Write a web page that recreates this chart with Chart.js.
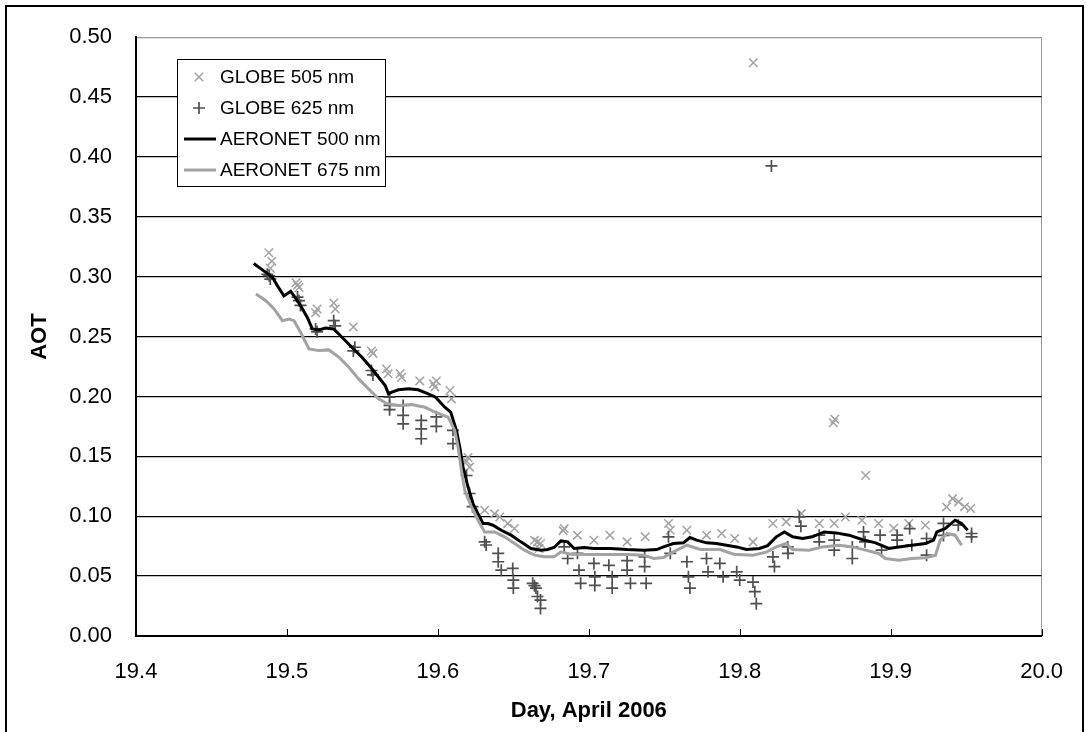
<!DOCTYPE html>
<html>
<head>
<meta charset="utf-8">
<script src="https://cdn.jsdelivr.net/npm/chart.js@4.4.1/dist/chart.umd.min.js"></script>
<style>
  html, body { margin: 0; padding: 0; background: #fff; }
  #wrap { position: relative; width: 1086px; height: 732px; overflow: hidden; }
  #frame { position: absolute; left: 5px; top: 5px; width: 1079px; height: 740px; border: 2px solid #000; box-sizing: border-box; pointer-events: none; }
  canvas { position: absolute; left: 0; top: 0; }
</style>
</head>
<body>
<div id="wrap">
  <canvas id="c" width="1086" height="732"></canvas>
  <div id="frame"></div>
</div>
<script>
// ---- data ----
const xTicks = [19.4, 19.5, 19.6, 19.7, 19.8, 19.9, 20.0];
const yTicks = [0.00, 0.05, 0.10, 0.15, 0.20, 0.25, 0.30, 0.35, 0.40, 0.45, 0.50];
const seriesNames = ["GLOBE 505 nm", "GLOBE 625 nm", "AERONET 500 nm", "AERONET 675 nm"];

const aeronet500X = [19.478,19.486,19.4905,19.4937,19.498,19.5025,19.5047,19.509,19.5135,19.5168,19.5212,19.5256,19.531,19.5365,19.543,19.5497,19.5563,19.5607,19.5651,19.5673,19.5695,19.5739,19.5805,19.587,19.5936,19.5985,19.6046,19.6085,19.6123,19.6145,19.6167,19.620,19.6233,19.6266,19.6299,19.6332,19.6365,19.642,19.6485,19.655,19.6617,19.6683,19.6727,19.677,19.6815,19.686,19.6903,19.697,19.7034,19.7144,19.7254,19.7364,19.745,19.7495,19.756,19.7627,19.767,19.7715,19.778,19.7846,19.7912,19.798,19.8044,19.813,19.8185,19.8242,19.8296,19.835,19.8417,19.848,19.856,19.8637,19.8724,19.881,19.89,19.8988,19.9054,19.914,19.923,19.9284,19.9306,19.936,19.9427,19.947,19.951];
const aeronet500Y = [0.311,0.3036,0.2994,0.2925,0.284,0.2878,0.284,0.276,0.266,0.2564,0.2556,0.2572,0.2564,0.2494,0.2411,0.2328,0.2231,0.2161,0.2092,0.2022,0.2036,0.2056,0.2064,0.2056,0.2022,0.1994,0.191,0.187,0.1717,0.1578,0.1411,0.1244,0.1106,0.1022,0.0939,0.0939,0.0925,0.0883,0.0842,0.0786,0.0731,0.0717,0.0722,0.0739,0.0794,0.0786,0.0731,0.0739,0.0731,0.0731,0.0722,0.0717,0.0722,0.0744,0.0772,0.0778,0.0822,0.080,0.0778,0.0772,0.0758,0.0744,0.0722,0.0731,0.0755,0.0828,0.0869,0.0828,0.0814,0.0828,0.0869,0.0861,0.0842,0.0806,0.0778,0.0731,0.0744,0.0758,0.0772,0.080,0.0869,0.0897,0.0967,0.0939,0.0883];

const aeronet675X = [19.4795,19.486,19.4915,19.497,19.5014,19.5047,19.509,19.5146,19.5212,19.5278,19.5344,19.541,19.5475,19.5541,19.5607,19.5662,19.5739,19.5826,19.5914,19.598,19.6068,19.6112,19.6134,19.6156,19.6178,19.6222,19.6266,19.631,19.6376,19.6442,19.6508,19.6573,19.664,19.6705,19.677,19.6815,19.688,19.7034,19.7254,19.7364,19.743,19.7495,19.756,19.765,19.774,19.787,19.796,19.8088,19.8176,19.8242,19.8308,19.835,19.846,19.8549,19.8659,19.8746,19.8834,19.892,19.8966,19.9054,19.914,19.923,19.9297,19.9328,19.9372,19.9427,19.947];
const aeronet675Y = [0.2856,0.280,0.2731,0.2633,0.2647,0.2633,0.2536,0.2397,0.2383,0.2389,0.2328,0.2244,0.2147,0.2064,0.1981,0.194,0.1925,0.1933,0.191,0.187,0.1828,0.1717,0.1578,0.1383,0.1217,0.1078,0.0967,0.0869,0.0869,0.0828,0.0772,0.0717,0.0675,0.0661,0.0661,0.0703,0.0683,0.068,0.068,0.0675,0.0647,0.0656,0.0703,0.0758,0.0722,0.0722,0.0683,0.0675,0.070,0.0744,0.0772,0.0722,0.0717,0.0744,0.0758,0.0744,0.0717,0.0689,0.0647,0.0633,0.0647,0.0653,0.0675,0.080,0.0856,0.0842,0.0758];

const globe505X = [19.488,19.490,19.489,19.506,19.508,19.507,19.519,19.520,19.531,19.532,19.544,19.556,19.557,19.566,19.567,19.576,19.575,19.588,19.597,19.599,19.598,19.608,19.609,19.620,19.621,19.619,19.631,19.6375,19.641,19.6463,19.6507,19.664,19.666,19.668,19.667,19.6837,19.683,19.6925,19.7034,19.714,19.7254,19.7374,19.7528,19.754,19.765,19.778,19.788,19.7967,19.8088,19.809,19.822,19.8308,19.8408,19.8527,19.8626,19.862,19.863,19.870,19.881,19.8834,19.892,19.902,19.912,19.923,19.937,19.945,19.949,19.941,19.953];
const globe505Y = [0.320,0.313,0.307,0.295,0.291,0.293,0.270,0.273,0.278,0.273,0.258,0.238,0.236,0.223,0.219,0.216,0.219,0.213,0.2106,0.213,0.208,0.205,0.198,0.149,0.141,0.146,0.105,0.102,0.0994,0.094,0.0897,0.080,0.0786,0.0772,0.073,0.0897,0.088,0.0842,0.080,0.0842,0.0786,0.0828,0.094,0.0883,0.0883,0.0842,0.0856,0.0814,0.0786,0.4786,0.094,0.0953,0.1022,0.094,0.094,0.178,0.181,0.0994,0.0967,0.134,0.094,0.090,0.094,0.0925,0.1078,0.112,0.108,0.1147,0.1064];

const globe625X = [19.4883,19.489,19.487,19.508,19.509,19.507,19.519,19.520,19.531,19.532,19.545,19.544,19.556,19.557,19.568,19.568,19.568,19.577,19.577,19.577,19.589,19.589,19.589,19.599,19.599,19.610,19.610,19.619,19.621,19.623,19.631,19.632,19.640,19.640,19.642,19.6496,19.650,19.650,19.6628,19.664,19.665,19.666,19.668,19.668,19.6837,19.686,19.6925,19.6935,19.6946,19.7034,19.704,19.704,19.7133,19.7155,19.7155,19.7254,19.7254,19.7276,19.737,19.737,19.738,19.7528,19.754,19.765,19.766,19.767,19.778,19.779,19.7868,19.789,19.798,19.800,19.8088,19.810,19.811,19.821,19.822,19.823,19.8318,19.832,19.8395,19.8405,19.8527,19.8527,19.8626,19.8626,19.8746,19.8746,19.882,19.883,19.893,19.894,19.9043,19.9043,19.9126,19.914,19.9238,19.9238,19.935,19.935,19.9448,19.9536,19.9536];
const globe625Y = [0.3008,0.298,0.302,0.280,0.276,0.283,0.2564,0.254,0.2633,0.259,0.2411,0.238,0.2217,0.218,0.1994,0.1925,0.189,0.1925,0.1842,0.1772,0.180,0.173,0.1647,0.183,0.175,0.1717,0.1606,0.134,0.119,0.108,0.0786,0.076,0.069,0.062,0.055,0.0564,0.0467,0.040,0.044,0.042,0.040,0.033,0.030,0.023,0.0744,0.0647,0.069,0.055,0.044,0.0606,0.0494,0.0422,0.059,0.0494,0.040,0.063,0.055,0.044,0.066,0.058,0.044,0.0828,0.069,0.062,0.0494,0.040,0.0647,0.0536,0.0606,0.0494,0.0536,0.0467,0.045,0.037,0.027,0.3925,0.066,0.058,0.0744,0.069,0.0994,0.0917,0.0786,0.0842,0.080,0.0717,0.0744,0.0647,0.0869,0.0786,0.0842,0.0717,0.0842,0.080,0.0897,0.0758,0.0814,0.0675,0.094,0.084,0.0925,0.0856,0.0828];

// ---- build ----
function pts(xs, ys) { return xs.map((x, i) => ({ x: x, y: ys[i] })); }
const FONT = '"Liberation Sans", Arial, sans-serif';
const LIGHT = '#a3a3a3', DARK = '#4f4f4f';

const datasets = [
  { label: seriesNames[0], data: pts(globe505X, globe505Y), showLine: false, pointStyle: 'crossRot', pointRadius: 6, pointBorderWidth: 1.5, borderColor: LIGHT, backgroundColor: LIGHT, order: 4 },
  { label: seriesNames[1], data: pts(globe625X, globe625Y), showLine: false, pointStyle: 'cross', pointRadius: 6, pointBorderWidth: 1.7, borderColor: DARK, backgroundColor: DARK, order: 3 },
  { label: seriesNames[2], data: pts(aeronet500X, aeronet500Y), showLine: true, pointRadius: 0, borderWidth: 3, borderColor: '#000', backgroundColor: '#000', tension: 0, order: 2 },
  { label: seriesNames[3], data: pts(aeronet675X, aeronet675Y), showLine: true, pointRadius: 0, borderWidth: 3, borderColor: LIGHT, backgroundColor: LIGHT, tension: 0, order: 1 }
];

const near = (a, b) => Math.abs(a - b) < 1e-6;

const innerTicks = {
  id: 'innerTicks',
  afterDatasetsDraw(chart) {
    const ctx = chart.ctx, xs = chart.scales.x, area = chart.chartArea;
    ctx.save();
    ctx.strokeStyle = '#000';
    ctx.lineWidth = 1;
    xTicks.forEach(v => {
      const px = Math.round(xs.getPixelForValue(v)) + 0.5;
      ctx.beginPath();
      ctx.moveTo(px, area.bottom);
      ctx.lineTo(px, area.bottom - 7);
      ctx.stroke();
    });
    ctx.restore();
  }
};

const boxLegend = {
  id: 'boxLegend',
  afterDraw(chart) {
    const ctx = chart.ctx;
    const bx = 177, by = 59, bw = 208, bh = 127;
    ctx.save();
    ctx.fillStyle = '#fff';
    ctx.fillRect(bx, by, bw, bh);
    ctx.strokeStyle = '#000';
    ctx.lineWidth = 1;
    ctx.strokeRect(bx + 0.5, by + 0.5, bw, bh);
    const rows = [77, 108, 139, 170];
    ctx.font = '19px ' + FONT;
    ctx.textBaseline = 'middle';
    chart.data.datasets.forEach((ds, i) => {
      const y = rows[i];
      if (!ds.showLine) {
        ctx.strokeStyle = ds.borderColor;
        ctx.fillStyle = ds.borderColor;
        ctx.lineWidth = ds.pointBorderWidth;
        Chart.helpers.drawPoint(ctx, { pointStyle: ds.pointStyle, radius: 6, borderWidth: ds.pointBorderWidth }, 199, y);
      } else {
        ctx.strokeStyle = ds.borderColor;
        ctx.lineWidth = 3;
        ctx.beginPath();
        ctx.moveTo(184, y);
        ctx.lineTo(216, y);
        ctx.stroke();
      }
      ctx.fillStyle = '#000';
      ctx.fillText(ds.label, 220, y + 1);
    });
    ctx.restore();
  }
};

new Chart(document.getElementById('c'), {
  type: 'scatter',
  data: { datasets: datasets },
  options: {
    responsive: false,
    animation: false,
    devicePixelRatio: 1,
    layout: { padding: { left: 0, top: 36, right: 39, bottom: 0 } },
    plugins: { legend: { display: false }, tooltip: { enabled: false } },
    scales: {
      x: {
        type: 'linear',
        min: xTicks[0], max: xTicks[xTicks.length - 1],
        afterFit: s => { s.height = 96; },
        afterBuildTicks: s => { s.ticks = xTicks.map(v => ({ value: v })); },
        ticks: { color: '#000', font: { family: FONT, size: 22 }, padding: 23, maxRotation: 0, callback: v => Number(v).toFixed(1) },
        grid: { drawTicks: false, lineWidth: 1, color: c => (c.tick && near(c.tick.value, xTicks[xTicks.length - 1])) ? '#9a9a9a' : 'rgba(0,0,0,0)' },
        border: { display: true, color: '#000', width: 2 },
        title: { display: true, text: 'Day, April 2006', color: '#000', font: { family: FONT, size: 22, weight: 'bold' }, padding: { top: 0, bottom: 8 } }
      },
      y: {
        type: 'linear',
        min: yTicks[0], max: yTicks[yTicks.length - 1],
        afterFit: s => { s.width = 136; },
        afterBuildTicks: s => { s.ticks = yTicks.map(v => ({ value: v })); },
        ticks: { color: '#000', font: { family: FONT, size: 22 }, padding: 24, callback: v => Number(v).toFixed(2) },
        grid: { drawTicks: false, lineWidth: 1.3, color: c => (c.tick && near(c.tick.value, yTicks[yTicks.length - 1])) ? '#9a9a9a' : (c.tick && near(c.tick.value, 0) ? 'rgba(0,0,0,0)' : '#000') },
        border: { display: true, color: '#000', width: 2 },
        title: { display: true, text: 'AOT', color: '#000', font: { family: FONT, size: 22, weight: 'bold' }, padding: { top: 27, bottom: 0 } }
      }
    }
  },
  plugins: [innerTicks, boxLegend]
});
</script>
</body>
</html>
